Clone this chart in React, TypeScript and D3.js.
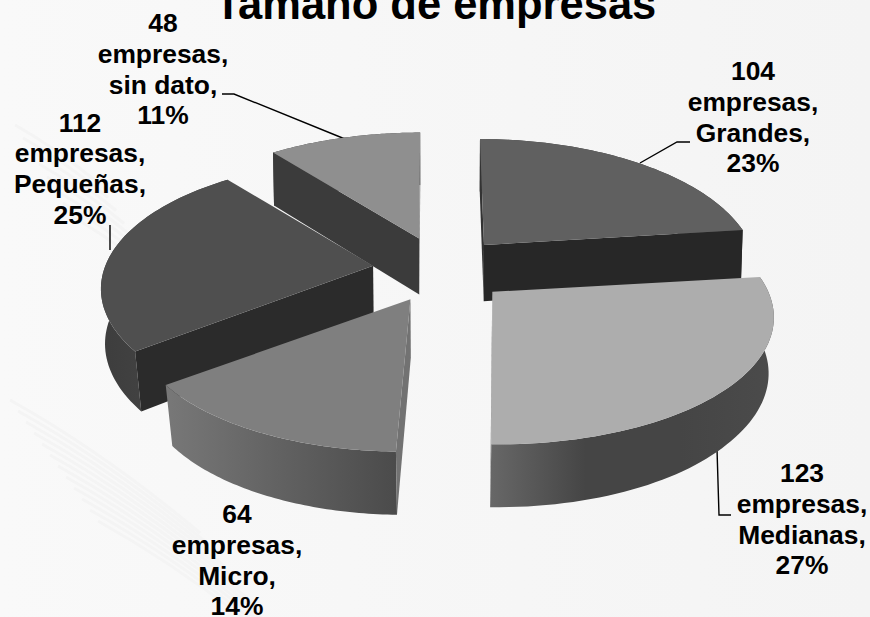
import React from "react";
import * as d3 from "d3";

const categories = ["Grandes", "Medianas", "Micro", "Pequeñas", "sin dato"];
const values = [104, 123, 64, 112, 48];
const percents = ["23%", "27%", "14%", "25%", "11%"];
const titleText = "Tamaño de empresas";

const topColors = ["#606060", "#adadad", "#7f7f7f", "#4f4f4f", "#8f8f8f"];
const startWallColors = ["#333333", null, "#727272", "#2b2b2b", "#3b3b3b"];
const endWallColors = ["#272727", "#6a6a6a", null, null, "#7a7a7a"];
const wallStops = [
  ["#3a3a3a", "#3a3a3a"],
  ["#676767", "#454545", "#454545", "#4b4b4b"],
  ["#787878", "#4b4b4b"],
  ["#3d3d3d", "#444444", "#3a3a3a"],
  ["#444444", "#444444"],
];
const paintOrder = [4, 0, 3, 1, 2];
const shear = [0.038, 0.04, -0.05, 0, -0.01];
const sizeScale = [0.967, 1, 0.98, 0.97, 0.98];
const nudgeX = [0, 3, 1, 0, 1.5];

const labelCx = [753, 802, 237, 80, 163];
const labelTop = [80, 482, 523, 131.5, 32];
const lineGap = 30.8;
const leaders = [
  [[640, 163], [677, 142], [690, 142]],
  [[717, 449], [719, 515], [731, 515]],
  [],
  [[110, 225], [110, 250]],
  [[222, 94], [234, 94], [345, 139]],
];
const watermarkBands = [
  { x0: 10, y0: 400, len: 190, dy: 11, n: 12 },
  { x0: 15, y0: 125, len: 85, dy: 13, n: 8 },
];

const W = 870;
const H = 617;
const pieCx = 439.6;
const pieCy = 269.7;
const explodeX = 67;
const explodeY = 33;
const rx = 276;
const tilt = 125;
const persp = 0.18;

const pieGen = d3.pie<number>().sort(null).startAngle(0).endAngle(2 * Math.PI);
const arcs = pieGen(values);

type P = [number, number];
const depthAt = (y: number) => 56 + (y - 240) * 0.034;
const inwardAt = d3.scaleLinear().domain([240, 350]).range([0.006, 0.02]).clamp(false);
const drop = ([x, y]: P): P => [
  x + (pieCx - x) * Math.min(0.024, Math.max(0.006, inwardAt(y))),
  y + depthAt(y),
];
const linePath = d3.line<P>().x((d) => d[0]).y((d) => d[1]);

function slice(i: number) {
  const a = arcs[i];
  const mid = (a.startAngle + a.endAngle) / 2;
  const ax = pieCx + explodeX * Math.sin(mid) + nudgeX[i];
  const ay = pieCy - explodeY * Math.cos(mid);
  const proj = (t: number): P => {
    const s = 1 / (1 + persp * Math.cos(t));
    const ly = -tilt * Math.cos(t) * s;
    return [ax + sizeScale[i] * rx * Math.sin(t) * s + shear[i] * ly, ay + ly];
  };
  const n = 60;
  const rim = d3.range(n + 1).map((k) => proj(a.startAngle + ((a.endAngle - a.startAngle) * k) / n));
  const apex: P = [ax, ay];
  return { apex, rim };
}

export default function App() {
  const slices = categories.map((_, i) => slice(i));
  return (
    <svg
      width={W}
      height={H}
      viewBox={`0 0 ${W} ${H}`}
      style={{ position: "fixed", left: 0, top: 0 }}
      fontFamily="'Liberation Sans', Arial, sans-serif"
    >
      <defs>
        <linearGradient id="bg" x1="0" x2="1" y1="0" y2="0">
          <stop offset="0" stopColor="#f9f9f9" />
          <stop offset="1" stopColor="#f4f4f4" />
        </linearGradient>
        {slices.map((s, i) => {
          const xs = d3.extent(s.rim, (d) => d[0]) as [number, number];
          return (
            <linearGradient key={i} id={`wall${i}`} gradientUnits="userSpaceOnUse" x1={xs[0]} x2={xs[1]} y1={0} y2={0}>
              {wallStops[i].map((c, k) => (
                <stop key={k} offset={k / (wallStops[i].length - 1)} stopColor={c} />
              ))}
            </linearGradient>
          );
        })}
      </defs>
      <rect width={W} height={H} fill="url(#bg)" />
      {watermarkBands.map((b, bi) => (
        <g key={bi} stroke="#f4f4f4" strokeWidth={3} fill="none">
          {d3.range(b.n).map((k) => (
            <path
              key={k}
              d={`M${b.x0 + k * 8},${b.y0 + k * b.dy} q${b.len / 2},${b.len * 0.28} ${b.len},${b.len * 0.7}`}
            />
          ))}
        </g>
      ))}
      <text x={435.5} y={18.5} textAnchor="middle" fontWeight="bold" fontSize={43.5} fill="#000">
        {titleText}
      </text>
      {leaders.map((l, i) =>
        l.length ? (
          <path key={i} d={linePath(l as P[]) ?? ""} fill="none" stroke="#000" strokeWidth={1.4} />
        ) : null
      )}
      {paintOrder.map((i) => {
        const { apex, rim } = slices[i];
        const bottomRim = rim.map(drop);
        const first = rim[0];
        const last = rim[rim.length - 1];
        const sc = startWallColors[i];
        const ec = endWallColors[i];
        return (
          <g key={i}>
            <path d={linePath([...rim, ...bottomRim.slice().reverse()]) + "Z"} fill={`url(#wall${i})`} />
            {sc && <path d={linePath([apex, first, drop(first), drop(apex)]) + "Z"} fill={sc} />}
            {ec && <path d={linePath([apex, last, drop(last), drop(apex)]) + "Z"} fill={ec} />}
            <path d={linePath([apex, ...rim]) + "Z"} fill={topColors[i]} />
          </g>
        );
      })}
      {categories.map((c, i) => (
        <text key={c} textAnchor="middle" fontWeight="bold" fontSize={26.4} fill="#000">
          {[String(values[i]), "empresas,", `${c},`, percents[i]].map((t, k) => (
            <tspan key={k} x={labelCx[i]} y={labelTop[i] + k * lineGap}>
              {t}
            </tspan>
          ))}
        </text>
      ))}
    </svg>
  );
}
